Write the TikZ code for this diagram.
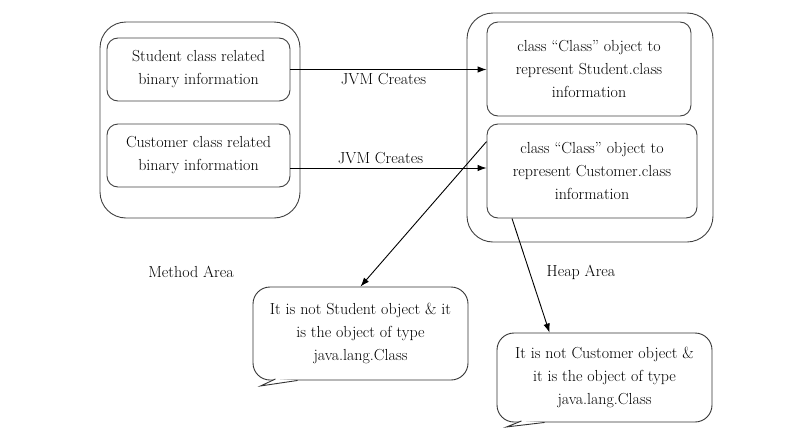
\documentclass[tikz,border=0pt]{standalone}
\usepackage{tikz}
\usetikzlibrary{arrows,arrows.meta,calc}

\begin{document}
\begin{tikzpicture}[x=1pt,y=-1pt,every path/.style={>={Latex[length=9pt,width=6.5pt]}},
                    every node/.style={font=\fontsize{16}{23}\selectfont,align=center},
                    line width=0.9pt,
                    area/.style={draw=black!75,rounded corners=26pt},
                    info/.style={draw=black!75,rounded corners=11pt},
                    bubble/.style={draw=black!80,rounded corners=17pt,minimum width=215pt}]
  \useasboundingbox (0,0) rectangle (800,434);
  % containers
  \node[area,minimum width=200pt,minimum height=196pt] (method) at (200,120) {};
  \node[area,minimum width=246pt,minimum height=229pt] (heap)   at (590,127.5) {};
  % method area contents
  \node[info,minimum width=183pt,minimum height=63pt] (stu) at (198.5,69.5)  {Student class related\\binary information};
  \node[info,minimum width=183pt,minimum height=63pt] (cus) at (198.5,155.5) {Customer class related\\binary information};
  % heap area contents
  \node[info,minimum width=204pt,minimum height=94pt] (stuobj) at (589,69)  {class ``Class'' object to\\represent Student.class\\information};
  \node[info,minimum width=210pt,minimum height=94pt] (cusobj) at (592,171) {class ``Class'' object to\\represent Customer.class\\information};
  % area names
  \node (mlabel) at (191,272) {Method Area};
  \node (hlabel) at (581,272) {Heap Area};
  % callouts
  \node[bubble,minimum height=93pt] (callS) at (360.5,333.5) {It is not Student object \& it\\is the object of type\\java.lang.Class};
  \node[bubble,minimum height=89pt] (callC) at (604.5,377.5) {It is not Customer object \&\\it is the object of type\\java.lang.Class};
  \draw[black!80,fill=white] ($(callS.south west)+(45,0)$) -- ($(callS.south west)+(8,5.5)$) -- ($(callS.south west)+(23,-1.5)$);
  \draw[black!80,fill=white] ($(callC.south west)+(48,0)$) -- ($(callC.south west)+(10,4.5)$) -- ($(callC.south west)+(25,-1.5)$);
  % connectors
  \draw[->] (stu.east) -- (stuobj.west |- stu.east) node[midway,below,xshift=-5pt] {JVM Creates};
  \draw[->] ([yshift=-12.5pt]cus.east) -- ([yshift=-12.5pt]cus.east -| cusobj.west) node[midway,above,xshift=-8pt] {JVM Creates};
  \draw[->] ([yshift=-18pt]cusobj.north west) -- (callS.north);
  \draw[->] ([xshift=-80pt]cusobj.south) -- ([xshift=-55pt]callC.north);
\end{tikzpicture}
\end{document}
